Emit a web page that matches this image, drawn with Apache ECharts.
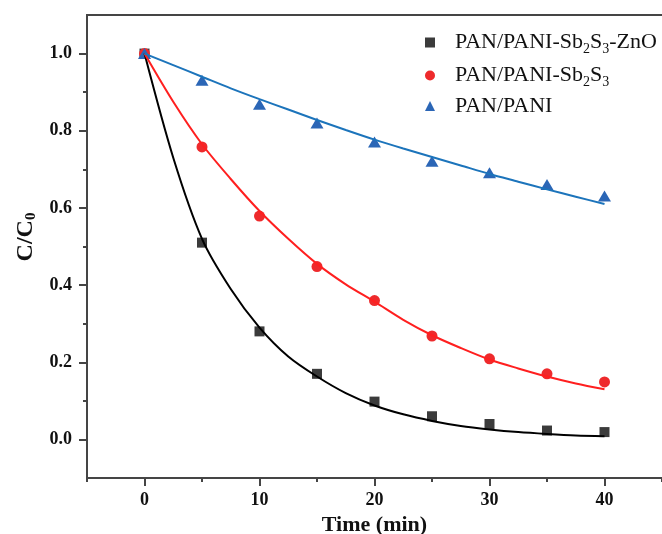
<!DOCTYPE html>
<html>
<head>
<meta charset="utf-8">
<script src="https://cdn.jsdelivr.net/npm/echarts@6/dist/echarts.min.js"></script>
<style>
    html, body { margin: 0; padding: 0; background: #fff; }
    #chart { width: 662px; height: 534px; }
</style>
</head>
<body>
<div id="chart"></div>
<script>
// 测量时间 (min)
const timeMin = [0, 5, 10, 15, 20, 25, 30, 35, 40];
// C/C0 实测点
const znoData = [1.0, 0.51, 0.28, 0.17, 0.098, 0.06, 0.04, 0.023, 0.019];
const sb2s3Data = [1.0, 0.758, 0.579, 0.448, 0.36, 0.268, 0.209, 0.17, 0.149];
const paniData = [1.0, 0.931, 0.869, 0.82, 0.771, 0.721, 0.691, 0.661, 0.631];
// 拟合曲线
const fitTime = [0, 2.5, 5, 7.5, 10, 12.5, 15, 17.5, 20, 22.5, 25, 27.5, 30, 32.5, 35, 37.5, 40];
const znoFit = [1.0, 0.73, 0.52, 0.39, 0.29, 0.215, 0.163, 0.12, 0.088, 0.065, 0.048, 0.035, 0.026, 0.019, 0.014, 0.01, 0.008];
const sb2s3Fit = [1.0, 0.875, 0.765, 0.675, 0.592, 0.52, 0.455, 0.402, 0.357, 0.31, 0.27, 0.237, 0.207, 0.184, 0.163, 0.145, 0.13];
const paniFit = [1.0, 0.97, 0.94, 0.91, 0.882, 0.855, 0.828, 0.802, 0.777, 0.754, 0.732, 0.71, 0.688, 0.668, 0.648, 0.629, 0.61];
// 刻度
const xMajor = [0, 10, 20, 30, 40];
const xMinor = [-5, 5, 15, 25, 35, 45];
const yMajor = [0, 0.2, 0.4, 0.6, 0.8, 1.0];
const yMinor = [0.1, 0.3, 0.5, 0.7, 0.9];
const names = ["PAN/PANI-Sb{sub|2}S{sub|3}-ZnO", "PAN/PANI-Sb{sub|2}S{sub|3}", "PAN/PANI"];

const serif = "'Liberation Serif', 'Times New Roman', serif";
const axisColor = "#454545";

function pairs(xs, ys) {
    let out = [];
    for (let i = 0; i < xs.length; i++) {
        out.push([xs[i], ys[i]]);
    }
    return out;
}

let dom = echarts.init(document.getElementById("chart"));

let baseAxis = {
    type: "value",
    axisLine: {show: true, onZero: false, lineStyle: {color: axisColor, width: 2}},
    splitLine: {show: false}
};

let option = {
    animation: false,
    backgroundColor: "#fff",
    grid: {left: 87, right: 0, top: 15, bottom: 56, outerBoundsMode: "none", containLabel: false},
    legend: {
        orient: "vertical",
        left: 420,
        top: 24,
        itemWidth: 10,
        itemHeight: 10,
        itemGap: 6,
        data: [
            {name: names[0], icon: "rect"},
            {name: names[1], icon: "circle"},
            {name: names[2], icon: "triangle"}
        ],
        textStyle: {
            fontFamily: serif,
            fontSize: 22,
            lineHeight: 21,
            color: "#111",
            padding: [0, 0, 0, 15],
            rich: {
                sub: {fontFamily: serif, fontSize: 14, lineHeight: 8, padding: [13, 0, 0, 0], color: "#111"}
            }
        }
    },
    xAxis: [
        Object.assign({}, baseAxis, {
            min: -5, max: 45, position: "bottom",
            axisTick: {customValues: xMajor, length: 8, lineStyle: {color: axisColor, width: 2}},
            axisLabel: {
                customValues: xMajor, margin: 13,
                fontFamily: serif, fontSize: 18, fontWeight: "bold", color: "#111"
            },
            name: "Time (min)",
            nameLocation: "middle",
            nameGap: 31,
            nameTextStyle: {fontFamily: serif, fontSize: 22, fontWeight: "bold", color: "#111"}
        }),
        Object.assign({}, baseAxis, {
            min: -5, max: 45, position: "bottom", offset: 0,
            axisTick: {customValues: xMinor, length: 4, lineStyle: {color: axisColor, width: 2}},
            axisLabel: {show: false}
        }),
        Object.assign({}, baseAxis, {
            min: -5, max: 45, position: "top", offset: 0,
            axisTick: {show: false},
            axisLabel: {show: false}
        })
    ],
    yAxis: [
        Object.assign({}, baseAxis, {
            min: -0.1, max: 1.1, position: "left",
            axisTick: {customValues: yMajor, length: 8, lineStyle: {color: axisColor, width: 2}},
            axisLabel: {
                customValues: yMajor, margin: 15,
                formatter: v => v.toFixed(1),
                fontFamily: serif, fontSize: 18, fontWeight: "bold", color: "#111"
            },
            name: "C/C{sub|0}",
            nameLocation: "middle",
            nameGap: 49,
            nameTextStyle: {
                fontFamily: serif, fontSize: 24, fontWeight: "bold", color: "#111",
                lineHeight: 24, padding: [0, 0, 0, 19],
                rich: {
                    sub: {fontFamily: serif, fontSize: 15, fontWeight: "bold", lineHeight: 15, padding: [10, 0, 0, 0], color: "#111"}
                }
            }
        }),
        Object.assign({}, baseAxis, {
            min: -0.1, max: 1.1, position: "left", offset: 0,
            axisTick: {customValues: yMinor, length: 4, lineStyle: {color: axisColor, width: 2}},
            axisLabel: {show: false}
        })
    ],
    series: [
        {
            name: "fit-zno", type: "line", smooth: 0.3, showSymbol: false, silent: true,
            lineStyle: {color: "#000", width: 2}, data: pairs(fitTime, znoFit)
        },
        {
            name: "fit-sb2s3", type: "line", smooth: 0.3, showSymbol: false, silent: true,
            lineStyle: {color: "#ff1f1f", width: 2}, data: pairs(fitTime, sb2s3Fit)
        },
        {
            name: "fit-pani", type: "line", smooth: 0.3, showSymbol: false, silent: true,
            lineStyle: {color: "#1c74bb", width: 2}, data: pairs(fitTime, paniFit)
        },
        {
            name: names[0], type: "scatter", symbol: "rect", symbolSize: 10,
            itemStyle: {color: "#3b3b3b", opacity: 1}, data: pairs(timeMin, znoData)
        },
        {
            name: names[1], type: "scatter", symbol: "circle", symbolSize: 11,
            itemStyle: {color: "#ee2a2c", opacity: 1}, data: pairs(timeMin, sb2s3Data)
        },
        {
            name: names[2], type: "scatter", symbol: "triangle", symbolSize: [13, 11],
            itemStyle: {color: "#2b66b6", opacity: 1}, data: pairs(timeMin, paniData)
        }
    ]
};

dom.setOption(option);
</script>
</body>
</html>
